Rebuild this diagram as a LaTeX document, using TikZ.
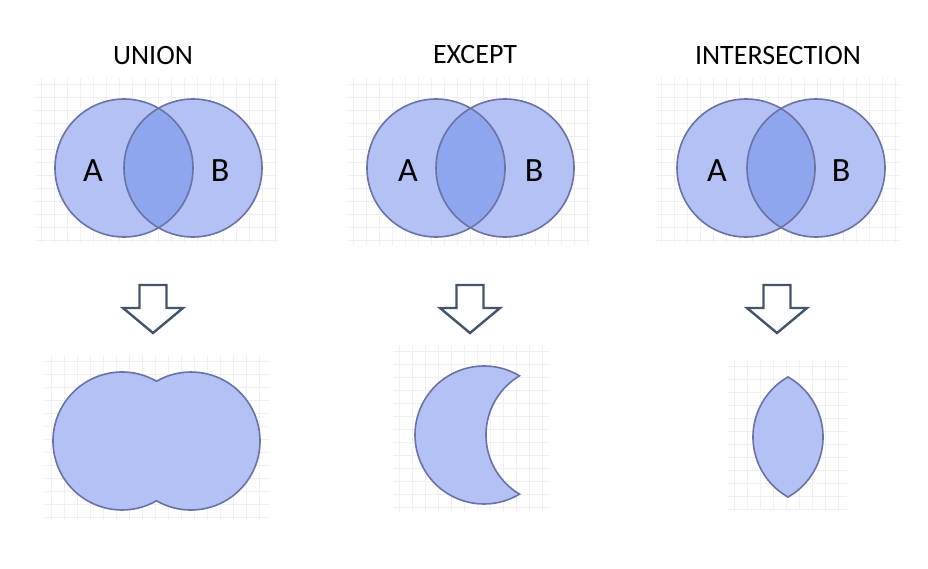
\documentclass[tikz,border=0pt]{standalone}
\usepackage{fontspec}
\setmainfont{Carlito}
\definecolor{fillA}{HTML}{B3C1F4}
\definecolor{fillAB}{HTML}{8EA6EE}
\definecolor{edgec}{HTML}{6B72A6}
\definecolor{gridc}{HTML}{EEF0F5}
\definecolor{arrowc}{HTML}{44546A}
\tikzset{
  title/.style={font=\fontsize{28}{30}\selectfont, text=black, anchor=base, inner sep=0},
  setlabel/.style={font=\fontsize{34}{36}\selectfont, text=black, inner sep=0},
  outline/.style={draw=edgec, line width=1.6},
  gridline/.style={draw=gridc, line width=0.7},
  bigarrow/.style={draw=arrowc, line width=2.4, fill=white, line join=miter}
}
\newcommand\gridpanel[4]{%
  \begin{scope}
    \clip (#1,#2) rectangle (#3,#4);
    \foreach \k in {0,...,20}{
      \draw[gridline] ({#1+6+13*\k},#2) -- ({#1+6+13*\k},#4);
      \draw[gridline] (#1,{#2+6+13*\k}) -- (#3,{#2+6+13*\k});
    }
  \end{scope}}
\newcommand\venn[3]{%
  \fill[fillA] (#1,#3) circle (69);
  \fill[fillA] (#2,#3) circle (69);
  \begin{scope}
    \clip (#1,#3) circle (69);
    \fill[fillAB] (#2,#3) circle (69);
  \end{scope}
  \draw[outline] (#1,#3) circle (69);
  \draw[outline] (#2,#3) circle (69);}
\newcommand\downarrowshape[1]{%
  \draw[bigarrow] ({#1-13.5},285) -- ({#1+13.5},285) -- ({#1+13.5},308) -- ({#1+30},308)
    -- (#1,333) -- ({#1-30},308) -- ({#1-13.5},308) -- cycle;}
\begin{document}
\begin{tikzpicture}[x=1pt,y=-1pt]
\useasboundingbox (0,0) rectangle (928,568);
\fill[white] (0,0) rectangle (928,568);

% grid panels
\gridpanel{35}{78}{278}{243}
\gridpanel{347}{78}{590}{245}
\gridpanel{655}{78}{900}{243}
\gridpanel{45}{355}{270}{520}
\gridpanel{393}{345}{550}{513}
\gridpanel{728}{360}{847}{510}

% titles
\node[title] (tunion) at (153,64) {UNION};
\node[title] (texcept) at (475,63) {EXCEPT};
\node[title] (tinter) at (778,64) {INTERSECTION};

% venn diagrams
\venn{124}{193}{168}
\venn{436}{505}{168}
\venn{746}{816}{168}

\node[setlabel] (a1) at (93,171) {A};
\node[setlabel] (b1) at (220,171) {B};
\node[setlabel] (a2) at (408,171) {A};
\node[setlabel] (b2) at (534,171) {B};
\node[setlabel] (a3) at (717,171) {A};
\node[setlabel] (b3) at (841,171) {B};

% arrows
\downarrowshape{153}
\downarrowshape{470}
\downarrowshape{777}

% union result
\filldraw[fill=fillA, outline] (156.5,{441-59.76})
  arc[start angle=-60, end angle=-300, radius=69]
  arc[start angle=120, end angle=-120, radius=69] -- cycle;

% except result (crescent)
\filldraw[fill=fillA, outline, line join=miter] (519.5,{435-59.17})
  arc[start angle=-59.04, end angle=-300.96, radius=69]
  arc[start angle=120.96, end angle=239.04, radius=69] -- cycle;

% intersection result (lens)
\filldraw[fill=fillA, outline, line join=miter] (788,{437-60.04})
  arc[start angle=-60.48, end angle=60.48, radius=69]
  arc[start angle=119.52, end angle=240.48, radius=69] -- cycle;
\end{tikzpicture}
\end{document}
